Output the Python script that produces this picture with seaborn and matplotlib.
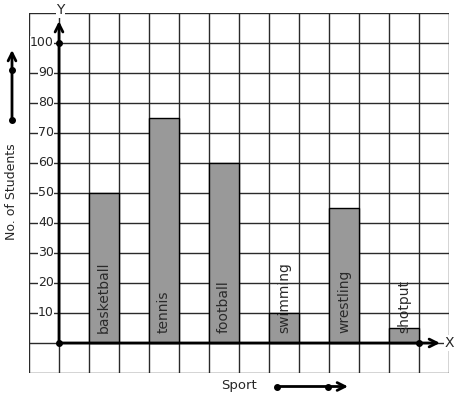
import numpy as np
import pandas as pd
import matplotlib
matplotlib.use("Agg")
import matplotlib.pyplot as plt
import seaborn as sns

# data
sports = ["basketball", "tennis", "football", "swimming", "wrestling", "shotput"]
students = [50, 75, 60, 10, 45, 5]
y_ticks = [10, 20, 30, 40, 50, 60, 70, 80, 90, 100]

sns.set_style("white")
plt.rcParams["font.family"] = ["DejaVu Sans"]

W, H = 457, 399
fig = plt.figure(figsize=(W / 100, H / 100), dpi=100)
# grid area in pixels: x 29..449, y 13..373
ax = fig.add_axes([29 / W, (H - 373) / H, 420 / W, 360 / H])

df = pd.DataFrame({"sport": sports, "students": students})
df["pos"] = [2 * i + 1.5 for i in range(len(sports))]

grid_col = "#2a2a2a"
for x in range(-1, 14):
    ax.axvline(x, color=grid_col, lw=1.0, zorder=0)
for y in range(-10, 111, 10):
    ax.axhline(y, color=grid_col, lw=1.0, zorder=0)

sns.barplot(data=df, x="pos", y="students", native_scale=True, width=0.5,
            color="#999999", saturation=1, edgecolor="black", linewidth=1,
            zorder=2, ax=ax)

for p, s in zip(df["pos"], df["sport"]):
    ax.text(p, 3.3, s, rotation=90, ha="center", va="bottom",
            fontsize=10, color="#2a2a2a", zorder=4)

ax.set_xlim(-1, 13)
ax.set_ylim(-10, 110)
ax.set_xticks([])
ax.set_yticks([])
ax.set_xlabel("")
ax.set_ylabel("")
for sp in ax.spines.values():
    sp.set_visible(False)

for t in y_ticks:
    ax.text(-0.17, t, str(t), ha="right", va="center", fontsize=9,
            zorder=5, bbox=dict(facecolor="white", edgecolor="none", pad=0.3))

# axes with arrows
ax.annotate("", xy=(0, 107.3), xytext=(0, 0), annotation_clip=False,
            arrowprops=dict(arrowstyle="->", lw=2, color="black",
                            shrinkA=0, shrinkB=0, mutation_scale=14), zorder=6)
ax.annotate("", xy=(12.7, 0), xytext=(0, 0), annotation_clip=False,
            arrowprops=dict(arrowstyle="->", lw=2, color="black",
                            shrinkA=0, shrinkB=0, mutation_scale=14), zorder=6)
ax.plot([0, 0, 12], [0, 100, 0], "o", color="black", ms=4, zorder=7,
        clip_on=False)
ax.text(0.05, 111, "Y", ha="center", va="center", fontsize=10, zorder=6,
        bbox=dict(facecolor="white", edgecolor="none", pad=0.5))
ax.text(13, 0, "X", ha="center", va="center", fontsize=10, zorder=6,
        bbox=dict(facecolor="white", edgecolor="none", pad=0.5))

# side and bottom decorations (figure pixels)
def fp(x, y):
    return (x, H - y)

fig.text(12 / W, 1 - 192 / H, "No. of Students", rotation=90,
         ha="center", va="center", fontsize=9)
fig.text(239 / W, 1 - 385 / H, "Sport", ha="center", va="center", fontsize=9.5)

ax.annotate("", xy=fp(12, 50), xytext=fp(12, 120), xycoords="figure pixels",
            textcoords="figure pixels", annotation_clip=False,
            arrowprops=dict(arrowstyle="->", lw=2, color="black",
                            shrinkA=0, shrinkB=0, mutation_scale=14))
ax.annotate("", xy=fp(348, 386.5), xytext=fp(277, 386.5),
            xycoords="figure pixels", textcoords="figure pixels",
            annotation_clip=False,
            arrowprops=dict(arrowstyle="->", lw=2, color="black",
                            shrinkA=0, shrinkB=0, mutation_scale=14))
for (px, py) in [(12, 70), (12, 120), (277, 386.5), (327.5, 386.5)]:
    fx, fy = fp(px, py)
    fig.add_artist(plt.Line2D([fx / W], [fy / H], marker="o", ms=4,
                              color="black", transform=fig.transFigure))

fig.savefig("out.png", dpi=100)
